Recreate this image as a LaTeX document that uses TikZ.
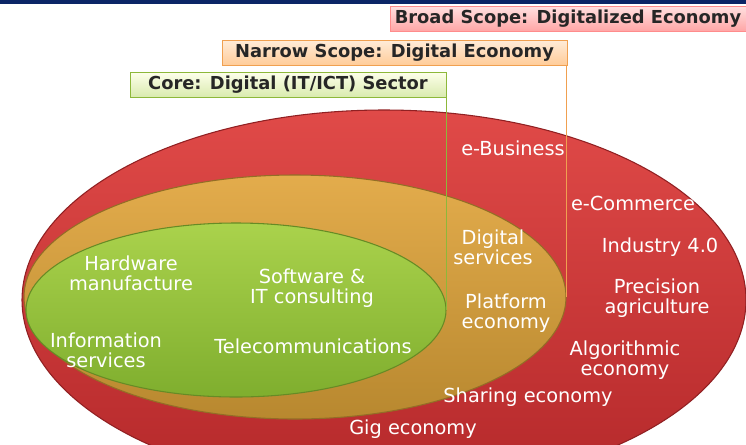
\documentclass[tikz,border=0pt]{standalone}
\usepackage{fontspec}
\setmainfont{DejaVu Sans}
\usetikzlibrary{shapes.geometric}
\definecolor{barblue}{HTML}{0B2566}
\definecolor{redtop}{HTML}{E04A48}
\definecolor{redbot}{HTML}{B4282A}
\definecolor{orgtop}{HTML}{E3AC4C}
\definecolor{orgbot}{HTML}{B8882F}
\definecolor{grntop}{HTML}{AAD24C}
\definecolor{grnbot}{HTML}{7FAE2E}
\definecolor{grnline}{HTML}{8DB83A}
\definecolor{orgline}{HTML}{F0A050}

\begin{document}
\begin{tikzpicture}[x=0.75pt, y=-0.75pt,
  set/.style = {ellipse, inner sep=0pt, line width=0.8pt},
  scopebox/.style = {rectangle, inner sep=0pt, minimum height=18.75pt, line width=0.6pt,
    text=black!85, font=\bfseries\fontsize{13.4}{14}\selectfont},
  item/.style = {text=white, align=center, font=\fontsize{14.5}{15}\selectfont}]
  \useasboundingbox (0,0) rectangle (746,444);
  \clip (0,0) rectangle (746,444);
  \fill[barblue] (0,0) rectangle (746,4);
  % nested scopes
  \node[set, draw=redbot!80!black, top color=redtop, bottom color=redbot,
    minimum width=543pt, minimum height=285pt] (broadset) at (384,300) {};
  \node[set, draw=orgbot!80!black, top color=orgtop, bottom color=orgbot,
    minimum width=406.5pt, minimum height=183pt] (narrowset) at (295,297) {};
  \node[set, draw=grnbot!80!black, top color=grntop, bottom color=grnbot,
    minimum width=315pt, minimum height=130.5pt] (coreset) at (236,310) {};
  % labels on top
  \node[scopebox, draw=red!45, top color=red!12, bottom color=red!35,
    minimum width=267pt] (broadlbl) at (568,18.5) {Broad Scope: Digitalized Economy};
  \node[scopebox, draw=orgline, top color=orange!15, bottom color=orange!40,
    minimum width=258.75pt] (narrowlbl) at (394.5,52.5) {Narrow Scope: Digital Economy};
  \node[scopebox, draw=grnline, top color=green!6!yellow!8, bottom color=grntop!45,
    minimum width=237pt] (corelbl) at (288,84.5) {Core: Digital (IT/ICT) Sector};
  \draw[orgline, line width=1pt] (narrowlbl.south -| narrowset.east) -- (narrowset.east);
  \draw[grnline, line width=1pt] (corelbl.south -| coreset.east) -- (coreset.east);
  % broad scope items
  \node[item] (ebiz) at (513,148) {e-Business};
  \node[item] (ecom) at (633,203) {e-Commerce};
  \node[item] (ind) at (660,247) {Industry 4.0};
  \node[item] (prec) at (657,298) {Precision\\agriculture};
  \node[item] (algo) at (625,360) {Algorithmic\\economy};
  \node[item] (share) at (528,397) {Sharing economy};
  \node[item] (gig) at (413,429) {Gig economy};
  % narrow scope items
  \node[item] (digserv) at (493,247) {Digital\\services};
  \node[item] (platf) at (506,313) {Platform\\economy};
  % core items
  \node[item] (hw) at (131,273) {Hardware\\manufacture};
  \node[item] (sw) at (312,288) {Software \&\\IT consulting};
  \node[item] (info) at (106,350) {Information\\services};
  \node[item] (tele) at (313,346) {Telecommunications};
\end{tikzpicture}
\end{document}
